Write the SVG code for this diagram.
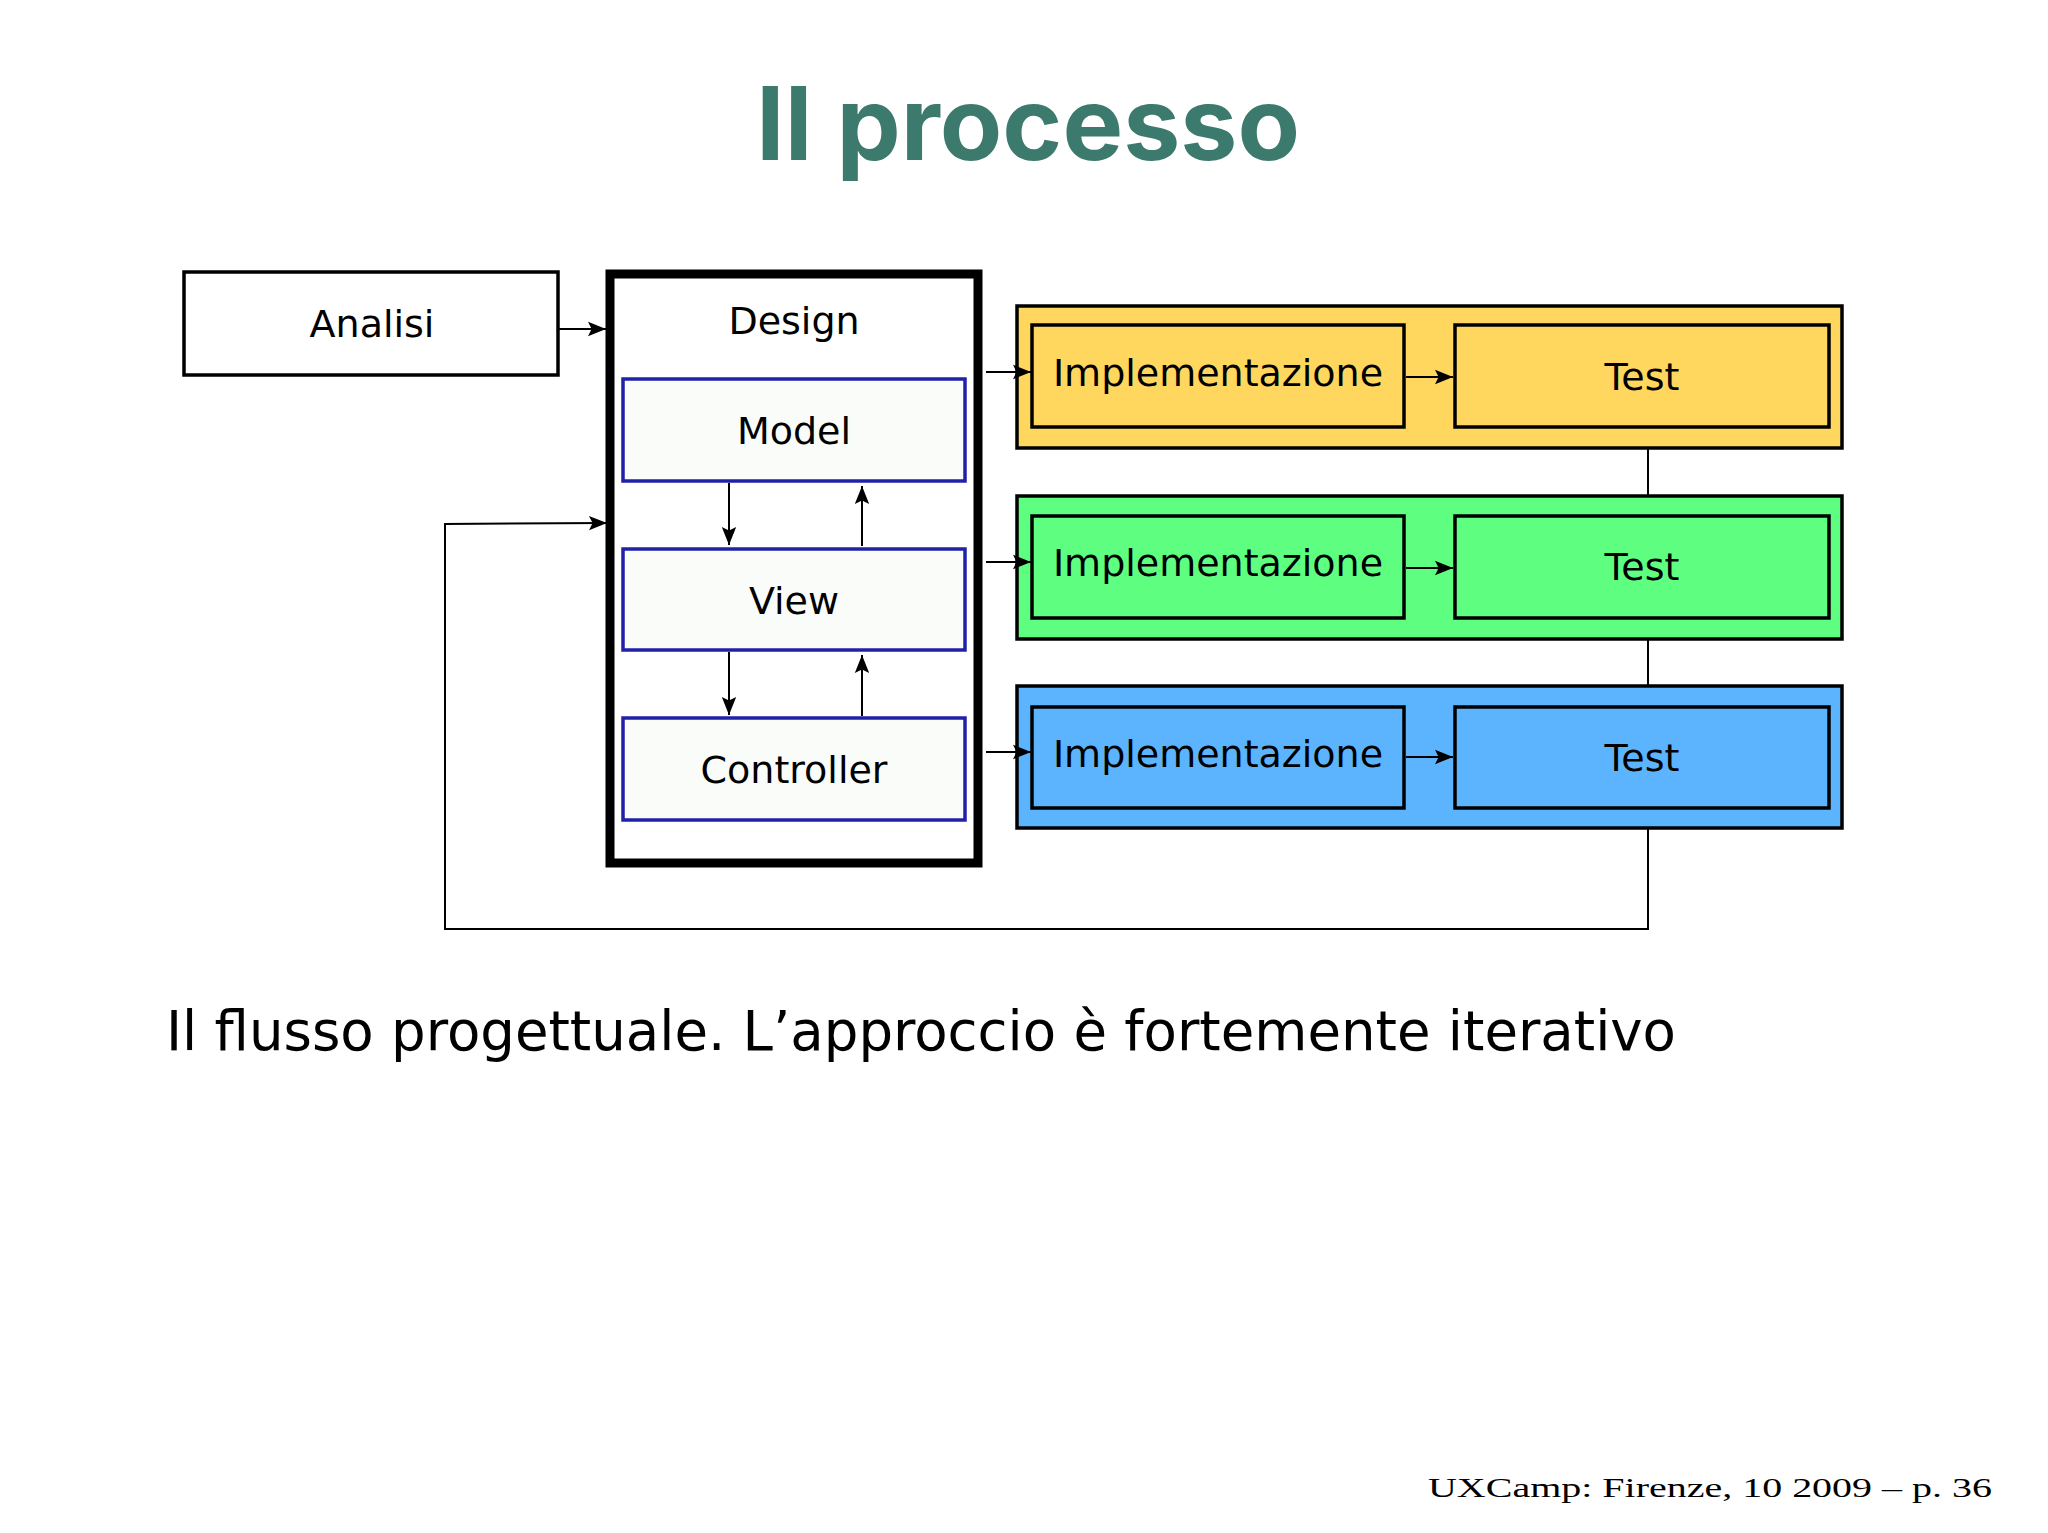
<svg xmlns="http://www.w3.org/2000/svg" width="2048" height="1533" viewBox="0 0 2048 1533">
<style>
.t{font-family:"DejaVu Sans",sans-serif;font-size:38px;text-anchor:middle;fill:#000}
.b{stroke:#000;stroke-width:3.5}
.m{fill:#fafcfa;stroke:#2020a8;stroke-width:3.5}
.c{fill:none;stroke:#000;stroke-width:2}
</style>
<defs>
<marker id="A" viewBox="0 0 10 10" refX="10" refY="5" markerWidth="24" markerHeight="18" markerUnits="userSpaceOnUse" orient="auto"><path d="M0,1 L10,5 L0,9 L2,5 Z" fill="#000"/></marker></defs>
<rect width="2048" height="1533" fill="#fff"/>
<text x="1028" y="160" font-family="Inter,'DejaVu Sans',sans-serif" font-weight="bold" font-size="102" fill="#3d7a6e" text-anchor="middle">Il processo</text>
<g id="analisi"><rect class="b" x="184" y="272" width="374" height="103" fill="#fff"/><text class="t" x="372" y="337">Analisi</text></g>
<g id="design"><rect x="610" y="274" width="368" height="589" fill="#fff" stroke="#000" stroke-width="9"/><text class="t" x="794" y="334">Design</text></g>
<g id="model"><rect class="m" x="623" y="379" width="342" height="102"/><text class="t" x="794" y="444">Model</text></g>
<g id="view"><rect class="m" x="623" y="549" width="342" height="101"/><text class="t" x="794" y="614">View</text></g>
<g id="controller"><rect class="m" x="623" y="718" width="342" height="102"/><text class="t" x="794" y="783">Controller</text></g>
<g id="row1"><rect class="b" x="1017" y="306" width="825" height="142" fill="#ffd75e"/>
<rect class="b" x="1032" y="325" width="372" height="102" fill="#ffd75e"/><text class="t" x="1218" y="386">Implementazione</text>
<rect class="b" x="1455" y="325" width="374" height="102" fill="#ffd75e"/><text class="t" x="1642" y="390">Test</text></g>
<g id="row2"><rect class="b" x="1017" y="496" width="825" height="143" fill="#5eff80"/>
<rect class="b" x="1032" y="516" width="372" height="102" fill="#5eff80"/><text class="t" x="1218" y="576">Implementazione</text>
<rect class="b" x="1455" y="516" width="374" height="102" fill="#5eff80"/><text class="t" x="1642" y="580">Test</text></g>
<g id="row3"><rect class="b" x="1017" y="686" width="825" height="142" fill="#5cb4ff"/>
<rect class="b" x="1032" y="707" width="372" height="101" fill="#5cb4ff"/><text class="t" x="1218" y="767">Implementazione</text>
<rect class="b" x="1455" y="707" width="374" height="101" fill="#5cb4ff"/><text class="t" x="1642" y="771">Test</text></g>
<g id="connectors">
<path class="c" d="M558,329 H606" marker-end="url(#A)"/>
<path class="c" d="M729,483 V545" marker-end="url(#A)"/>
<path class="c" d="M862,546 V486" marker-end="url(#A)"/>
<path class="c" d="M729,652 V715" marker-end="url(#A)"/>
<path class="c" d="M862,716 V655" marker-end="url(#A)"/>
<path class="c" d="M986,372 H1031" marker-end="url(#A)"/>
<path class="c" d="M986,562 H1031" marker-end="url(#A)"/>
<path class="c" d="M986,752 H1031" marker-end="url(#A)"/>
<path class="c" d="M1406,377 H1453" marker-end="url(#A)"/>
<path class="c" d="M1406,568 H1453" marker-end="url(#A)"/>
<path class="c" d="M1406,757 H1453" marker-end="url(#A)"/>
<path class="c" d="M1648,448 V496 M1648,639 V686"/>
<path class="c" d="M1648,828 V929 H445 V524 L607,523" marker-end="url(#A)"/>
</g>
<text x="166" y="1050" font-family="'DejaVu Sans',sans-serif" font-size="55" fill="#000" textLength="1510" lengthAdjust="spacingAndGlyphs">Il flusso progettuale.  L’approccio è fortemente iterativo</text>
<text x="1428" y="1497" font-family="'Liberation Serif',serif" font-size="27" fill="#000" textLength="564" lengthAdjust="spacingAndGlyphs">UXCamp: Firenze, 10 2009 – p. 36</text>
</svg>
